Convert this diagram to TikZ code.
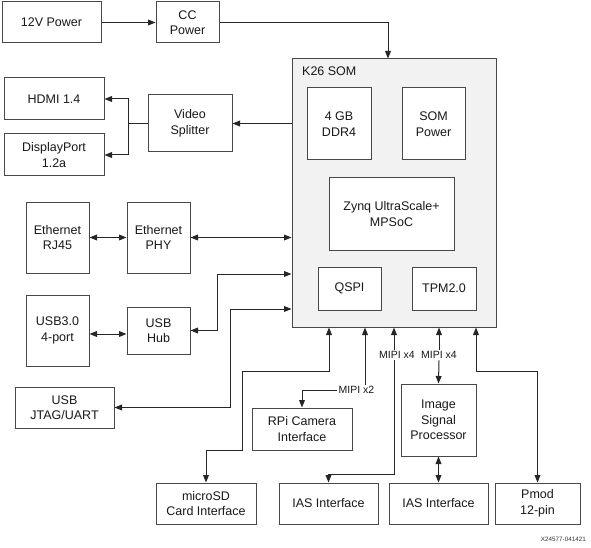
\documentclass[tikz,border=0pt]{standalone}
\usepackage{fontspec}
\setmainfont{Liberation Sans}
\usetikzlibrary{arrows.meta}
\newcommand\boxfont{\fontsize{12.5}{15.5}\selectfont}
\newcommand\labfont{\fontsize{10.5}{12}\selectfont}
\tikzset{
  box/.style={draw=black!72, line width=1pt, fill=white, align=center, inner sep=0pt, font=\boxfont, text=black!90},
  somstyle/.style={draw=black!72, line width=1pt, fill=black!5, inner sep=0pt},
  lab/.style={fill=white, inner sep=1.5pt, font=\labfont, text=black!90},
  conn/.style={line width=1pt, draw=black!85},
  >={Triangle[length=7.5pt,width=5.8pt]}
}
\begin{document}
\begin{tikzpicture}[x=1pt,y=-1pt]
\useasboundingbox (0,0) rectangle (591,548);
% SOM container
\node[somstyle, minimum width=204pt, minimum height=268pt] (som) at (394,193) {};
\node[anchor=west, font=\boxfont, inner sep=0pt, text=black!90] (somlabel) at (302,71) {K26 SOM};
% inner boxes
\node[box, minimum width=64pt, minimum height=72pt] (ddr) at (339,124) {4 GB\\DDR4};
\node[box, minimum width=63pt, minimum height=72pt] (sompwr) at (433.5,124) {SOM\\Power};
\node[box, minimum width=125pt, minimum height=72pt] (zynq) at (391.5,214) {Zynq UltraScale+\\MPSoC};
\node[box, minimum width=63pt, minimum height=43pt] (qspi) at (349.5,288.5) {QSPI};
\node[box, minimum width=64pt, minimum height=43pt] (tpm) at (444,288.5) {TPM2.0};
% outer boxes
\node[box, minimum width=99pt, minimum height=41pt] (p12) at (51.5,22.5) {12V Power};
\node[box, minimum width=63pt, minimum height=41pt] (cc) at (187.5,22.5) {CC\\Power};
\node[box, minimum width=100pt, minimum height=42pt] (hdmi) at (54,99) {HDMI 1.4};
\node[box, minimum width=100pt, minimum height=42pt] (dp) at (54,155) {DisplayPort\\1.2a};
\node[box, minimum width=84pt, minimum height=57pt] (vs) at (190,123.5) {Video\\Splitter};
\node[box, minimum width=63pt, minimum height=71pt] (rj45) at (57.5,237.5) {Ethernet\\RJ45};
\node[box, minimum width=63pt, minimum height=71pt] (phy) at (158.5,237.5) {Ethernet\\PHY};
\node[box, minimum width=63pt, minimum height=71pt] (usb3) at (57.5,330.5) {USB3.0\\4-port};
\node[box, minimum width=63pt, minimum height=47pt] (hub) at (158.5,330.5) {USB\\Hub};
\node[box, minimum width=99pt, minimum height=41pt] (jtag) at (64.5,407.5) {USB\\JTAG/UART};
\node[box, minimum width=100pt, minimum height=42pt] (rpi) at (302,429) {RPi Camera\\Interface};
\node[box, minimum width=75pt, minimum height=72pt] (isp) at (438.5,420) {Image\\Signal\\Processor};
\node[box, minimum width=100pt, minimum height=41pt] (sd) at (206,503.5) {microSD\\Card Interface};
\node[box, minimum width=99pt, minimum height=41pt] (ias1) at (328.5,503.5) {IAS Interface};
\node[box, minimum width=99pt, minimum height=41pt] (ias2) at (438.5,503.5) {IAS Interface};
\node[box, minimum width=85pt, minimum height=41pt] (pmod) at (537.5,503.5) {Pmod\\12-pin};
% labels
\node[lab] (m2) at (356.5,390) {MIPI x2};
\node[lab] (m4a) at (397,355) {MIPI x4};
\node[lab] (m4b) at (439,355) {MIPI x4};
\node[anchor=east, inner sep=0pt, font=\fontsize{6.3}{7}\selectfont, text=black!80] (fig) at (586,539) {X24577-041421};
% anchor coordinates on SOM
\coordinate (ccin) at ([xshift=-6pt]som.north);
\coordinate (vsj) at (128,123.5);
\coordinate (hubk) at (217,274);
\coordinate (jtk) at (230,309);
\coordinate (sdU) at ([xshift=-65pt]som.south);
\coordinate (rpiU) at ([xshift=-29pt]som.south);
\coordinate (iasU) at (som.south);
\coordinate (ispU) at ([xshift=45pt]som.south);
\coordinate (pmU) at ([xshift=82pt]som.south);
% connectors
\draw[conn,->] (p12) -- (cc);
\draw[conn,->] (cc.east) -| (ccin);
\draw[conn,->] (som.west |- vs.east) -- (vs.east);
\draw[conn] (vs.west) -- (vsj);
\draw[conn,->] (vsj) |- (hdmi.east);
\draw[conn,->] (vsj) |- (dp.east);
\draw[conn,<->] (rj45) -- (phy);
\draw[conn,<->] (phy.east) -- (phy.east -| som.west);
\draw[conn,<->] ([yshift=-3.5pt]usb3.east) -- ([yshift=-3.5pt]hub.west);
\draw[conn,<->] (hub.east) -| (hubk) -- (hubk -| som.west);
\draw[conn,<->] (jtag.east) -| (jtk) -- (jtk -| som.west);
\draw[conn,<->] (sdU) |- (242,371) |- (sd.north |- 0,450) -- (sd.north);
\draw[conn,->] (rpiU |- m2.north) -- (rpiU);
\draw[conn,->] (m2.west) -| (rpi.north);
\draw[conn,->] (iasU |- m4a.north) -- (iasU);
\draw[conn,->] (iasU |- m4a.south) |- (ias1.north |- 0,474) -- (ias1.north);
\draw[conn,->] (ispU |- m4b.north) -- (ispU);
\draw[conn,->] (ispU |- m4b.south) -- (isp.north);
\draw[conn,<->] (isp.south) -- (ias2.north);
\draw[conn,<->] (pmU) |- (pmod.north |- 0,371) -- (pmod.north);
\end{tikzpicture}
\end{document}
